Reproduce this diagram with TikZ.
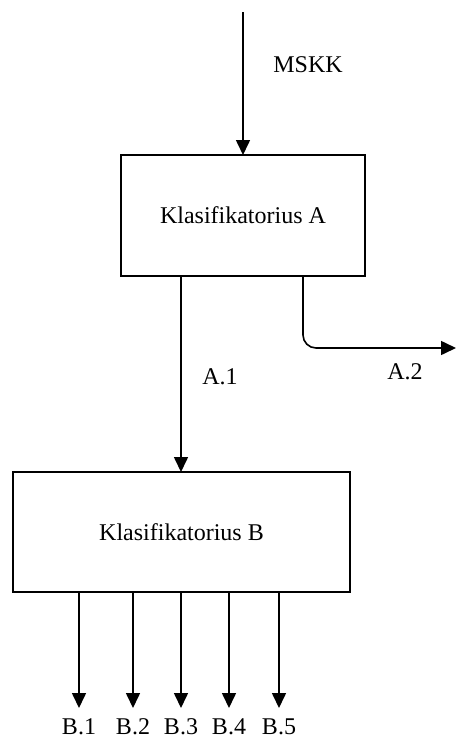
\documentclass[tikz,border=0pt]{standalone}
\usepackage{fontspec}
\setmainfont{Liberation Serif}
\usetikzlibrary{arrows.meta}
\begin{document}
\begin{tikzpicture}[x=1pt,y=-1pt,
  box/.style={draw,line width=1.6pt,minimum width=#1,inner sep=0pt,outer sep=0pt},
  flow/.style={line width=1.6pt,-{Triangle[width=14pt,length=15pt]}},
  lbl/.style={inner sep=0pt,font=\fontsize{24}{28}\selectfont}]
  \useasboundingbox (0,0) rectangle (456,742);
  % blocks
  \node[box=244pt,minimum height=121pt,lbl] (boxA) at (243,215.5) {Klasifikatorius A};
  \node[box=337pt,minimum height=120pt,lbl] (boxB) at (181.5,532) {Klasifikatorius B};
  % input
  \coordinate (in) at (243,12);
  \draw[flow] (in) -- (boxA.north);
  \node[lbl] (mskk) at (308,65) {MSKK};
  % outputs of A
  \coordinate (a1) at (181,0);
  \draw[flow] (boxA.south -| a1) -- (boxB.north -| a1);
  \node[lbl] (la1) at (220,377) {A.1};
  \coordinate (a2) at (303,0);
  \coordinate (a2end) at (456,348);
  \draw[flow,rounded corners=13pt] (boxA.south -| a2) |- (a2end);
  \node[lbl] (la2) at (405,372) {A.2};
  % outputs of B
  \foreach \x/\t [count=\i] in {79/B.1,133/B.2,181/B.3,229/B.4,279/B.5}{
    \coordinate (b\i) at (\x,708);
    \draw[flow] (boxB.south -| b\i) -- (b\i);
    \node[lbl] (lb\i) at (\x,727) {\t};
  }
\end{tikzpicture}
\end{document}
